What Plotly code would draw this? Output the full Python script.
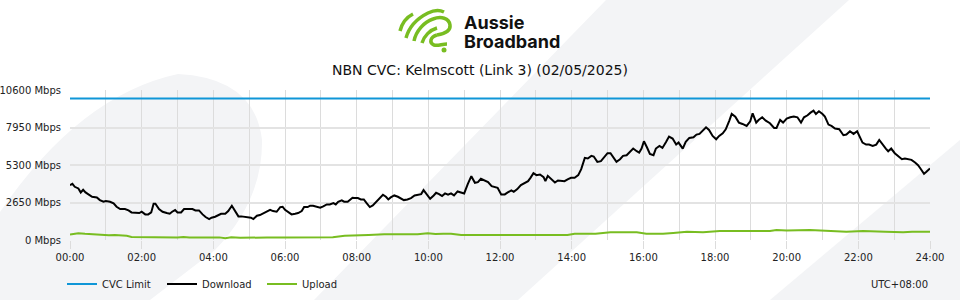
import plotly.graph_objects as go

# ---------------- data ----------------
title_text = "NBN CVC: Kelmscott (Link 3) (02/05/2025)"
tick_hours = list(range(0, 25, 2))
tick_labels = [f"{h:02d}:00" for h in tick_hours]
y_ticks = [0, 2650, 5300, 7950, 10600]
y_tick_labels = [f"{v} Mbps" for v in y_ticks]

cvc_minutes = [0, 1440]
cvc_limit = [10000, 10000]

download_minutes = [
    0, 4, 8, 14, 18, 22, 26, 32, 37, 45, 50, 56, 60, 67, 73, 78, 84, 92, 98, 103,
    109, 116, 120, 126, 131, 136, 140, 143, 149, 155, 162, 167, 171, 176, 180, 186,
    191, 198, 205, 210, 216, 222, 227, 233,
    237, 243, 249, 253, 260, 265, 271, 276, 282, 287, 293, 299, 303, 307, 313, 318,
    324, 329, 335, 340, 346, 352, 356, 360, 366, 371, 377, 382, 388, 392, 398, 402,
    407, 413, 419, 424, 430, 435, 441, 445, 449, 455, 459, 465, 469, 473,
    476, 482, 487, 492, 497, 502, 507, 512, 518, 524, 529, 533, 537, 543, 549, 554,
    559, 565, 571, 577, 582, 588, 592, 598, 603, 609, 613, 618, 623, 628, 633, 638,
    643, 649, 655, 660, 666, 672, 678, 683, 688, 694, 700, 706, 712,
    716, 722, 728, 733, 739, 743, 749, 755, 761, 767, 771, 776, 781, 787, 793, 796,
    800, 806, 812, 817, 823, 828, 834, 839, 845, 851, 856, 862, 867, 873, 877, 883,
    889, 894, 900, 905, 910, 915, 921, 926, 932, 938, 943, 949,
    953, 957, 961, 966, 971, 977, 981, 987, 992, 998, 1003, 1009, 1015, 1019, 1026,
    1031, 1037, 1044, 1049, 1054, 1059, 1065, 1070, 1076, 1082, 1087, 1093, 1098,
    1104, 1108, 1114, 1120, 1126, 1133, 1139, 1143, 1149, 1153, 1159, 1165, 1172,
    1179, 1183, 1189,
    1194, 1200, 1206, 1212, 1218, 1224, 1229, 1235, 1240, 1245, 1249, 1254, 1260,
    1264, 1270, 1275, 1281, 1288, 1295, 1300, 1306, 1312, 1318, 1323, 1327, 1333,
    1338, 1344, 1350, 1355, 1361, 1366, 1370, 1375, 1381, 1387, 1393, 1398, 1404,
    1409, 1415, 1420, 1424, 1430, 1434, 1440,
]
download_mbps = [
    3877, 3971, 3760, 3642, 3360, 3548, 3360, 3219, 3055, 3008, 2820, 2703, 2750, 2703, 2585, 2350, 2186, 2186, 2091, 1950,
    1904, 1904, 1997, 1809, 1809, 1950, 2561, 2561, 2186, 1997, 1904, 1856, 1997, 2115, 1950, 1950,
    2186, 2186, 2186, 2091, 2091, 1809, 1622, 1481,
    1575, 1645, 1762, 1856, 1856, 2044, 2420, 2044, 1669, 1669, 1622, 1622, 1575, 1481, 1716, 1762,
    1880, 1997, 2138, 2044, 1997, 2326, 2350, 2138, 1950, 1809, 1856, 1904, 2044, 2326, 2326, 2420,
    2420, 2326, 2279, 2373, 2514, 2514, 2608, 2514, 2703, 2796, 2703, 2703, 2843, 2984,
    2961, 2961, 2867, 2867, 2585, 2326, 2444, 2679, 2914, 3196, 3055, 2867, 3008, 3149, 3055, 2914,
    2820, 2867, 2961, 3149, 3196, 3243, 3525, 3149, 2914, 3149, 3337, 3243, 3102, 3290, 3196, 3290,
    3149, 3431, 3337, 3290, 3948, 4512, 4042, 4089, 4324, 4230, 4089, 3807, 3713,
    3690, 3219, 3219, 3360, 3501, 3407, 3595, 3877, 4018, 4159, 4394, 4723, 4582, 4629, 4441, 4159,
    4535, 4300, 4065, 4206, 4206, 4159, 4300, 4394, 4394, 4582, 5005, 5804, 5757, 5945, 5898, 5522,
    5569, 5804, 6133, 6133, 5851, 5522, 5710, 5945, 5992, 6227, 6462, 6274,
    6180, 6462, 6979, 6556, 6086, 5992, 6462, 6650, 6509, 6932, 7308, 7167, 6744, 6885, 6462,
    6932, 7214, 7261, 7449, 7496, 7731, 7966, 7778, 7355, 7120, 7355, 7543, 7825,
    8436, 8906, 8718, 8295, 8201, 8060, 8389, 8953, 8295, 8483, 8671, 8436, 8248,
    7919, 7919, 8483,
    8295, 8577, 8671, 8718, 8671, 8295, 8671, 8812, 9000, 9141, 8906, 9094, 8906,
    8718, 8154, 8060, 7872, 7825, 7402, 7449, 7684, 7496, 7684, 7214, 6885, 6744,
    6744, 6650, 6744, 7073, 6697, 6462, 6274, 6462, 6133, 5945, 5710, 5757, 5710,
    5663, 5475, 5287, 5052, 4676, 4817, 5052,
]

upload_minutes = [
    0, 8, 14, 25, 40, 55, 65, 75, 85, 95, 103, 120, 140, 160, 180, 190, 200, 220,
    240, 250, 260, 270, 285, 300, 330, 360, 390, 420, 440, 460, 480, 500, 526, 560,
    582, 599, 612, 625, 638, 655, 690, 713, 740, 766, 777, 790, 833, 845, 880, 905,
    930, 949, 965, 993, 1010, 1033, 1060, 1088, 1130, 1172, 1183, 1200, 1239, 1260,
    1281, 1300, 1328, 1351, 1365, 1395, 1410, 1440,
]
upload_mbps = [
    380, 420, 480, 440, 390, 360, 340, 350, 330, 300, 220, 200, 200, 185, 170, 215, 175, 170,
    150, 185, 120, 190, 160, 180, 175, 180, 185, 190, 200, 300, 300, 352, 400, 400,
    400, 470, 420, 446, 446, 352, 352, 352, 352, 352, 305, 352, 352, 446, 446, 540,
    517, 540, 446, 446, 500, 587, 540, 634, 634, 634, 705, 680, 705, 660,
    587, 587, 634, 634, 587, 540, 587, 587,
]

# ---------------- helpers for decoration (pixel -> paper) ----------------
L, R, T, B = 70, 30, 90, 60
W, H = 960, 300
PW, PH = W - L - R, H - T - B


def px(x, y):
    return (x - L) / PW, (H - B - y) / PH


def path(cmds):
    out = []
    for c in cmds:
        if isinstance(c, str):
            out.append(c)
        else:
            a, b = px(*c)
            out.append(f"{a:.5f},{b:.5f}")
    return " ".join(out)


BLUE = "#0f96d7"
GREEN = "#78bd21"
BG = "#f3f4f6"
GRID = "#dcdcdc"
FS = 10

fig = go.Figure()
fig.add_trace(go.Scatter(x=[m / 60 for m in cvc_minutes], y=cvc_limit, mode="lines",
                         name="CVC Limit", line=dict(color=BLUE, width=2)))
fig.add_trace(go.Scatter(x=[m / 60 for m in download_minutes], y=download_mbps, mode="lines",
                         name="Download", line=dict(color="#000000", width=2)))
fig.add_trace(go.Scatter(x=[m / 60 for m in upload_minutes], y=upload_mbps, mode="lines",
                         name="Upload", line=dict(color=GREEN, width=2)))

shapes = []
# background decorations
shapes.append(dict(type="path", xref="paper", yref="paper", layer="below", line=dict(width=0),
                   fillcolor=BG,
                   path=path(["M", (-80, 300), "L", (0, 212), "Q", (80, 95), (178, 74),
                              "Q", (255, 78), (262, 140), "Q", (263, 200), (215, 250),
                              "L", (150, 300), "Z"])))
shapes.append(dict(type="path", xref="paper", yref="paper", layer="below", line=dict(width=0),
                   fillcolor=BG,
                   path=path(["M", (606, 0), "L", (849, 0), "L", (518, 300), "L", (314, 300), "Z"])))
shapes.append(dict(type="path", xref="paper", yref="paper", layer="below", line=dict(width=0),
                   fillcolor=BG,
                   path=path(["M", (960, 140), "L", (960, 300), "L", (770, 300), "Z"])))
# logo strokes
logo_strokes = [
    ["M", (400, 31), "C", (402, 23), (407, 17), (413, 14)],
    ["M", (406, 38), "C", (409, 27), (418, 18), (428, 13), "C", (434, 10), (440, 10), (444, 12)],
    ["M", (414, 41), "C", (416, 31), (424, 22), (433, 19), "C", (441, 16), (449, 18), (450, 25),
     "C", (451, 32), (443, 34), (437, 35)],
    ["M", (422, 43), "C", (424, 36), (430, 30), (437, 28)],
    ["M", (437, 35), "C", (430, 37), (429, 43), (434, 45), "C", (438, 46), (442, 44), (447, 44)],
]
for s in logo_strokes:
    shapes.append(dict(type="path", xref="paper", yref="paper", layer="above",
                       line=dict(color=GREEN, width=3.5), path=path(s)))
cx0, cy0 = px(441.5, 47.5)
cx1, cy1 = px(446.5, 52.5)
shapes.append(dict(type="circle", xref="paper", yref="paper", x0=cx0, y0=cy0, x1=cx1, y1=cy1,
                   fillcolor=GREEN, line=dict(width=0)))

ax, ay1 = px(462, 23)
_, ay2 = px(462, 41)
_, leg_y = px(0, 284)
_, title_y = px(0, 70)
tx, _ = px(480, 0)
leg_x, _ = px(62, 0)

annotations = [
    dict(text="<b>Aussie</b>", x=ax, y=ay1, xref="paper", yref="paper", xanchor="left",
         yanchor="middle", showarrow=False, height=17,
         font=dict(family="Inter", size=18, color="#111111")),
    dict(text="<b>Broadband</b>", x=ax, y=ay2, xref="paper", yref="paper", xanchor="left",
         yanchor="middle", showarrow=False, height=17,
         font=dict(family="Inter", size=18, color="#111111")),
    dict(text="UTC+08:00", x=1, y=leg_y, xref="paper", yref="paper", xanchor="right",
         yanchor="middle", showarrow=False,
         font=dict(family="DejaVu Sans", size=FS, color="#222222")),
    dict(text=title_text, x=tx, y=title_y, xref="paper", yref="paper", xanchor="center",
         yanchor="middle", showarrow=False,
         font=dict(family="DejaVu Sans", size=14, color="#111111")),
]

fig.update_layout(
    width=W, height=H,
    margin=dict(l=L, r=R, t=T, b=B, autoexpand=False),
    paper_bgcolor="white", plot_bgcolor="rgba(0,0,0,0)",
    font=dict(family="DejaVu Sans", size=FS, color="#222222"),
    shapes=shapes, annotations=annotations,
    showlegend=True,
    legend=dict(orientation="h", x=leg_x, xanchor="left", y=leg_y, yanchor="middle",
                entrywidth=55, entrywidthmode="pixels", itemwidth=30,
                font=dict(family="DejaVu Sans", size=FS, color="#222222"),
                bgcolor="rgba(0,0,0,0)"),
    xaxis=dict(range=[0, 24], tickmode="array", tickvals=tick_hours, ticktext=tick_labels,
               showgrid=True, gridcolor=GRID, gridwidth=1, zeroline=False, automargin=False,
               ticks="outside", ticklen=8, tickcolor=GRID, tickwidth=1,
               minor=dict(tickmode="linear", tick0=0, dtick=1, showgrid=True, gridcolor=GRID,
                          gridwidth=1, ticks=""),
               tickfont=dict(size=FS), fixedrange=True),
    yaxis=dict(range=[0, 10600], tickmode="array", tickvals=y_ticks, ticktext=y_tick_labels,
               showgrid=True, gridcolor="#e3e3e3", gridwidth=2, zeroline=False, automargin=False,
               ticks="", ticklabelstandoff=8, tickfont=dict(size=FS), fixedrange=True),
)

fig.write_html("out.html")
